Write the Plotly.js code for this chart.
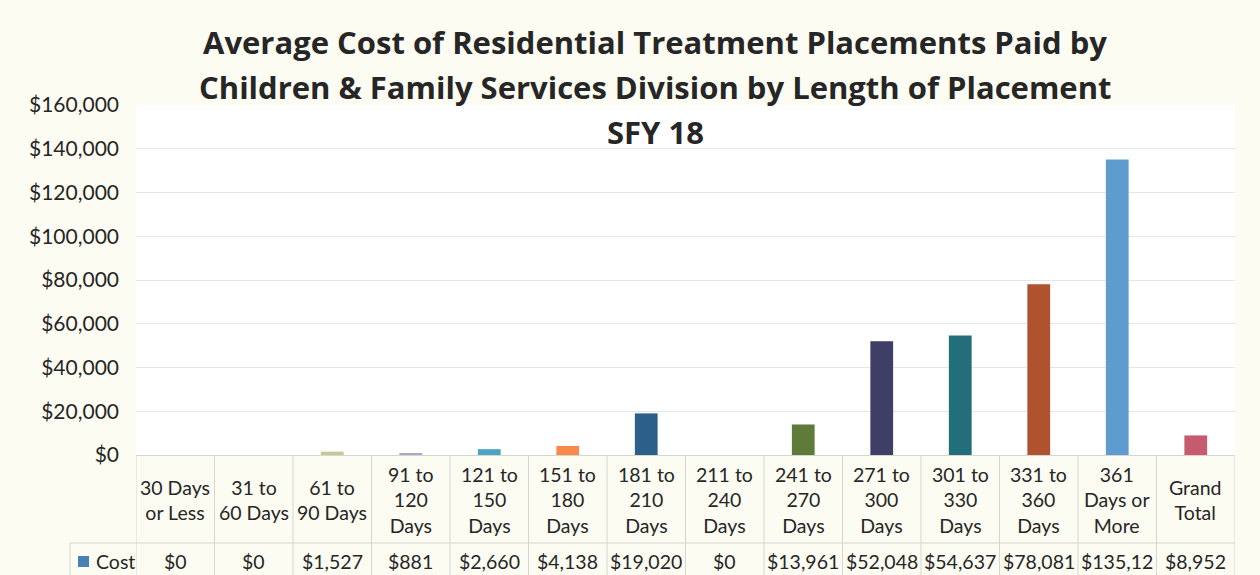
<!DOCTYPE html>
<html>
<head>
<meta charset="utf-8">
<script src="https://cdn.plot.ly/plotly-3.0.1.min.js"></script>
<style>html,body{margin:0;padding:0;background:#fdfcf2;}</style>
</head>
<body>
<div id="chart" style="width:1260px;height:575px;"></div>
<script>
// ---- data ----
var categories = ["30 Days or Less","31 to 60 Days","61 to 90 Days","91 to 120 Days","121 to 150 Days",
  "151 to 180 Days","181 to 210 Days","211 to 240 Days","241 to 270 Days","271 to 300 Days",
  "301 to 330 Days","331 to 360 Days","361 Days or More","Grand Total"];
var categoryLabels = ["30 Days<br>or Less","31 to<br>60 Days","61 to<br>90 Days","91 to<br>120<br>Days","121 to<br>150<br>Days",
  "151 to<br>180<br>Days","181 to<br>210<br>Days","211 to<br>240<br>Days","241 to<br>270<br>Days","271 to<br>300<br>Days",
  "301 to<br>330<br>Days","331 to<br>360<br>Days","361<br>Days or<br>More","Grand<br>Total"];
var costValues = [0, 0, 1527, 881, 2660, 4138, 19020, 0, 13961, 52048, 54637, 78081, 135120, 8952];
var costLabels = ["$0","$0","$1,527","$881","$2,660","$4,138","$19,020","$0","$13,961","$52,048","$54,637","$78,081","$135,12","$8,952"];
var barColors = ["#4f81bd","#c0504d","#c4c89a","#a9a3cc","#4ba3c6","#f7894a","#2d5f8b","#a33b3a",
  "#5f7b3a","#3f3e66","#226e7a","#b0522f","#5e9cd0","#c65a6e"];
var yTicks = [0,20000,40000,60000,80000,100000,120000,140000,160000];
var yTickText = ["$0","$20,000","$40,000","$60,000","$80,000","$100,000","$120,000","$140,000","$160,000"];
var titleLines = ["Average Cost of Residential Treatment Placements Paid by",
  "Children &amp; Family Services Division by Length of Placement","SFY 18"];
var seriesName = "Cost";

// ---- geometry helpers (pixel -> paper) ----
var L = 136, R = 25, T = 105, B = 120, W = 1260, H = 575;
var pw = W - L - R, ph = H - T - B;
function px(x){ return (x - L) / pw; }
function py(y){ return (H - B - y) / ph; }

var FONT = "Lato, 'Open Sans', sans-serif";
var TFONT = "'Open Sans', Lato, sans-serif";
var txtColor = "#262626";
var lineColor = "#d6d6d0";

var trace = {
  type: "bar",
  x: categories,
  y: costValues,
  marker: {color: barColors},
  width: 0.29,
  name: seriesName,
  hoverinfo: "x+y"
};

var annotations = [];
var shapes = [];

// title lines
var titleY = [42, 87, 132];
titleLines.forEach(function(t, i){
  annotations.push({xref:"paper", yref:"paper", x: px(655), y: py(titleY[i]),
    xanchor:"center", yanchor:"middle", showarrow:false, text:"<b>"+t+"</b>",
    font:{family:TFONT, size:31, color:txtColor}});
});

// table: header labels and values
categories.forEach(function(c, i){
  annotations.push({xref:"x", yref:"paper", x: c, y: py(500), xanchor:"center", yanchor:"middle",
    showarrow:false, text: categoryLabels[i], font:{family:FONT, size:19.5, color:txtColor}});
  annotations.push({xref:"x", yref:"paper", x: c, y: py(561), xanchor:"center", yanchor:"middle",
    showarrow:false, text: costLabels[i], font:{family:FONT, size:19.5, color:txtColor}});
});
// legend key cell
annotations.push({xref:"paper", yref:"paper", x: px(94), y: py(561), xanchor:"left", yanchor:"middle",
  showarrow:false, text: seriesName, font:{family:FONT, size:19.5, color:txtColor}});
shapes.push({type:"rect", xref:"paper", yref:"paper", x0:px(78), x1:px(89), y0:py(556), y1:py(567),
  line:{width:0}, fillcolor:"#4a80b8"});

// table grid lines
for (var i = 0; i <= categories.length; i++) {
  shapes.push({type:"line", xref:"x", yref:"paper", x0: i - 0.5, x1: i - 0.5, y0: py(455), y1: py(575),
    line:{color:lineColor, width:1}});
}
shapes.push({type:"line", xref:"paper", yref:"paper", x0: px(70), x1: 1, y0: py(543), y1: py(543),
  line:{color:lineColor, width:1}});
shapes.push({type:"line", xref:"paper", yref:"paper", x0: px(70), x1: px(70), y0: py(543), y1: py(575),
  line:{color:lineColor, width:1}});

var layout = {
  width: W, height: H,
  margin: {l: L, r: R, t: T, b: B, pad: 0},
  paper_bgcolor: "#fdfcf2",
  plot_bgcolor: "#ffffff",
  showlegend: false,
  bargap: 0.7,
  xaxis: {
    type: "category",
    range: [-0.5, categories.length - 0.5],
    showticklabels: false,
    showgrid: false,
    zeroline: false,
    showline: true,
    linecolor: lineColor,
    linewidth: 1,
    ticks: ""
  },
  yaxis: {
    range: [0, 160000],
    tickvals: yTicks,
    ticktext: yTickText,
    tickfont: {family: FONT, size: 21, color: txtColor},
    showgrid: true,
    gridcolor: "#e6e6e6",
    gridwidth: 1,
    zeroline: false,
    showline: false,
    ticks: "",
    ticklabelstandoff: 16
  },
  annotations: annotations,
  shapes: shapes,
  font: {family: FONT, color: txtColor}
};

Plotly.newPlot("chart", [trace], layout, {displayModeBar: false, staticPlot: true});
</script>
</body>
</html>
